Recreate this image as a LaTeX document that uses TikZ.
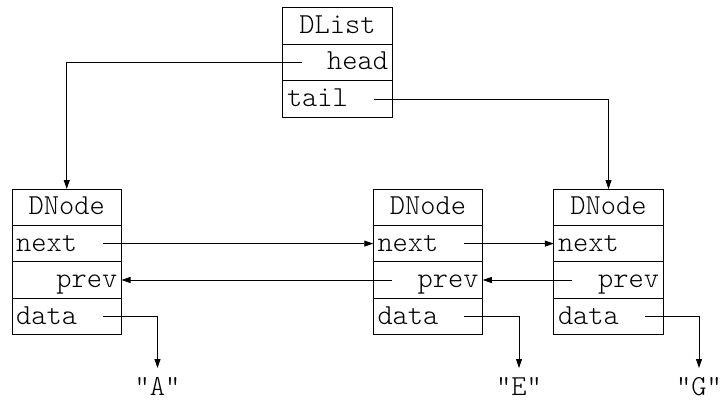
\documentclass[tikz,border=0pt]{standalone}
\usepackage{fontspec}
\newfontfamily\lmlight{Latin Modern Mono Light}
\usetikzlibrary{arrows.meta,positioning}
\begin{document}
\begin{tikzpicture}[x=1pt,y=-1pt,
  font=\lmlight\fontsize{29}{29}\selectfont,
  field/.style={draw, line width=0.8pt, minimum width=109.5pt, minimum height=36.4pt,
    text width=101pt, inner xsep=4.25pt, inner ysep=0pt, outer sep=0pt,
    text height=17pt, text depth=1.5pt},
  lft/.style={field, align=left},
  rgt/.style={field, align=right},
  ctr/.style={field, align=center},
  val/.style={inner xsep=0pt, inner ysep=0pt, outer sep=0pt, text height=27pt, text depth=0pt},
  link/.style={line width=0.8pt, -{Triangle[length=9pt,width=6pt]}}
]
\useasboundingbox (0,0) rectangle (723,404);
% DList
\node[ctr, minimum height=37pt] (dl) at (337.5,25.5) {DList};
\node[rgt, minimum height=36.5pt, below=0pt of dl] (dlh) {head};
\node[lft, minimum height=37pt, below=0pt of dlh] (dlt) {tail};
% DNode 1
\node[ctr] (a) at (66.75,207.2) {DNode};
\node[lft, below=0pt of a] (an) {next};
\node[rgt, below=0pt of an] (ap) {prev};
\node[lft, below=0pt of ap] (ad) {data};
% DNode 2
\node[ctr] (b) at (428,207.2) {DNode};
\node[lft, below=0pt of b] (bn) {next};
\node[rgt, below=0pt of bn] (bp) {prev};
\node[lft, below=0pt of bp] (bd) {data};
% DNode 3
\node[ctr] (c) at (608.5,207.2) {DNode};
\node[lft, below=0pt of c] (cn) {next};
\node[rgt, below=0pt of cn] (cp) {prev};
\node[lft, below=0pt of cp] (cd) {data};
% values
\node[val, anchor=north] (va) at (157.5,368) {"A"};
\node[val, anchor=north] (ve) at (519,368) {"E"};
\node[val, anchor=north] (vg) at (699,368) {"G"};
% connectors
\draw[link] ([xshift=19pt]dlh.west) -| (a.north);
\draw[link] ([xshift=-18pt]dlt.east) -| (c.north);
\draw[link] ([xshift=-18.5pt]an.east) -- (bn.west);
\draw[link] ([xshift=-19pt]bn.east) -- (cn.west);
\draw[link] ([xshift=18pt]cp.west) -- (bp.east);
\draw[link] ([xshift=19pt]bp.west) -- (ap.east);
\draw[link] ([xshift=-18.5pt]ad.east) -| (va.north);
\draw[link] ([xshift=-19pt]bd.east) -| (ve.north);
\draw[link] ([xshift=-18pt]cd.east) -| (vg.north);
\end{tikzpicture}
\end{document}
